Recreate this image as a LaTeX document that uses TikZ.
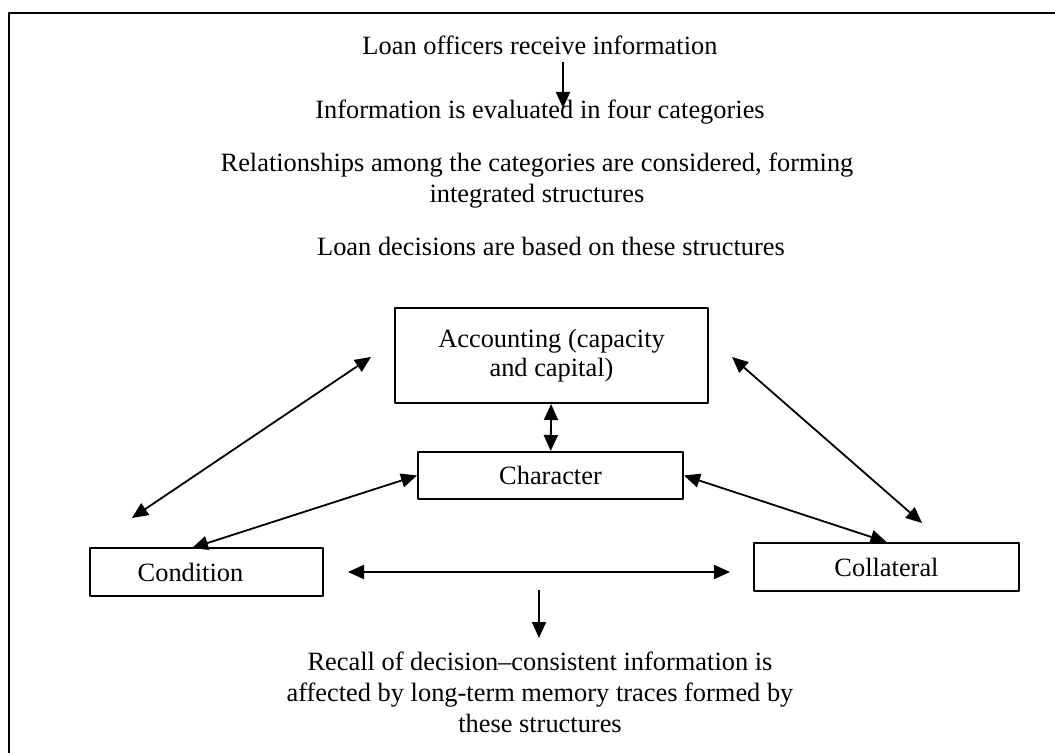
\documentclass[tikz,border=0pt]{standalone}
\usepackage{fontspec}
\setmainfont{Liberation Serif}
\usetikzlibrary{arrows.meta}

\tikzset{
  box/.style={draw, line width=1pt, inner sep=0pt, align=center,
    font=\fontsize{13.2}{14.5}\selectfont},
  txt/.style={inner sep=0pt, align=center, font=\fontsize{13.2}{15.5}\selectfont},
}

\begin{document}
\begin{tikzpicture}[x=0.5pt, y=-0.5pt, >={Triangle[length=8pt,width=7pt]},
    line width=0.9pt, line join=round]
  \useasboundingbox (0,0) rectangle (1055,753);
  % open frame (top and left only)
  \draw[line width=1.1pt] (9,753) -- (9,13) -- (1055,13);
  % steps of the process
  \node[txt] (recv) at (540,45) {Loan officers receive information};
  \node[txt] (eval) at (540,112) {Information is evaluated in four categories};
  \node[txt] (rel) at (537,181) {Relationships among the categories are considered, forming\\integrated structures};
  \node[txt] (dec) at (551,246) {Loan decisions are based on these structures};
  % the four categories
  \node[box, minimum width=156.5pt, minimum height=47.5pt] (acc) at (551.5,355.5) {Accounting (capacity\\and capital)};
  \node[box, minimum width=132.5pt, minimum height=23.5pt] (chr) at (550.5,475.5) {Character};
  \node[box, minimum width=116.5pt, minimum height=24pt] (cond) at (206.5,572) {Condition\hspace*{16pt}};
  \node[box, minimum width=132.5pt, minimum height=24pt] (coll) at (886.5,567) {Collateral};
  \node[txt] (recall) at (540,692) {Recall of decision\textendash consistent information is\\affected by long-term memory traces formed by\\these structures};
  % free ends
  \coordinate (a1) at (563,62);   \coordinate (a2) at (563,108);
  \coordinate (accL) at (371,357); \coordinate (condT) at (132,518);
  \coordinate (accR) at (732,357); \coordinate (collT) at (922,523);
  \coordinate (condN) at (192,548);
  \coordinate (h1) at (348,572);  \coordinate (h2) at (730,572);
  \coordinate (d1) at (539,590);  \coordinate (d2) at (539,638);
  % arrows
  \draw[->] (a1) -- (a2);
  \draw[<->] (accL) -- (condT);
  \draw[<->] (accR) -- (collT);
  \draw[<->] (acc) -- (chr);
  \draw[<->] (chr.west) -- (condN);
  \draw[<->] (chr.east) -- (coll.north);
  \draw[<->] (h1) -- (h2);
  \draw[->] (d1) -- (d2);
\end{tikzpicture}
\end{document}
